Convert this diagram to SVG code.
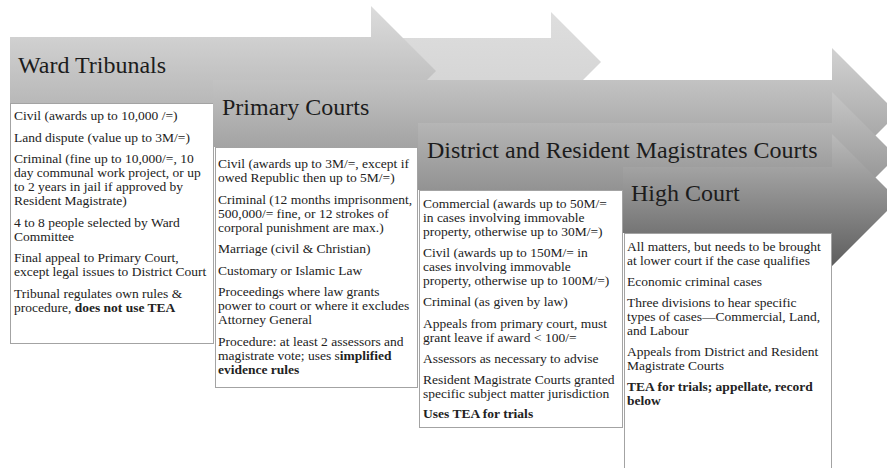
<svg xmlns="http://www.w3.org/2000/svg" width="887" height="468" viewBox="0 0 887 468">
<style>
text{font-family:'Liberation Serif','Times New Roman','DejaVu Serif',serif}
.t{font-size:24px;fill:#1c1c1c}
.b{font-size:13.5px;fill:#222}
.bx{fill:#fff;stroke:#a3a3a3;stroke-width:1}
.k{font-weight:bold}
</style>
<defs>
<linearGradient id="gL" x1="0" y1="0" x2="0" y2="1"><stop offset="0" stop-color="#dedede"/><stop offset="1" stop-color="#d2d2d2"/></linearGradient>
<linearGradient id="gW" x1="0" y1="0" x2="0" y2="1"><stop offset="0" stop-color="#dcdcdc"/><stop offset="1" stop-color="#acacac"/></linearGradient>
<linearGradient id="gP" x1="0" y1="0" x2="0" y2="1"><stop offset="0" stop-color="#d2d2d2"/><stop offset="1" stop-color="#949494"/></linearGradient>
<linearGradient id="gD" x1="0" y1="0" x2="0" y2="1"><stop offset="0" stop-color="#c6c6c6"/><stop offset="1" stop-color="#828282"/></linearGradient>
<linearGradient id="gH" x1="0" y1="0" x2="0" y2="1"><stop offset="0" stop-color="#bababa"/><stop offset="1" stop-color="#5e5e5e"/></linearGradient>
</defs>
<rect width="887" height="468" fill="#fff"/>
<g id="connectors">
<polygon points="200,38 551,38 551,12 601,62 551,112 551,86 200,86" fill="url(#gL)"/>
</g>
<g id="ward" font-family="Liberation Serif, serif">
<polygon points="10,37 371,37 371,6 436,71 371,136 371,104 10,104" fill="url(#gW)"/>
<text class="t" x="18" y="73">Ward Tribunals</text>
<rect class="bx" x="10.5" y="103.5" width="203" height="240"/>
<text class="b" x="14">
<tspan x="14" y="120">Civil (awards up to 10,000 /=)</tspan>
<tspan x="14" y="141.5">Land dispute (value up to 3M/=)</tspan>
<tspan x="14" y="163">Criminal (fine up to 10,000/=, 10</tspan>
<tspan x="14" y="177">day communal work project, or up</tspan>
<tspan x="14" y="191">to 2 years in jail if approved by</tspan>
<tspan x="14" y="205">Resident Magistrate)</tspan>
<tspan x="14" y="226.5">4 to 8 people selected by Ward</tspan>
<tspan x="14" y="240.5">Committee</tspan>
<tspan x="14" y="262">Final appeal to Primary Court,</tspan>
<tspan x="14" y="276">except legal issues to District Court</tspan>
<tspan x="14" y="297.5">Tribunal regulates own rules &amp;</tspan>
<tspan x="14" y="311.5">procedure, <tspan class="k">does not use TEA</tspan></tspan>
</text>
</g>
<g id="primary">
<polygon points="213,80 832,80 832,48 897.5,113.5 832,179 832,147 213,147" fill="url(#gP)"/>
<text class="t" x="222" y="115">Primary Courts</text>
<rect class="bx" x="215.5" y="147.5" width="202" height="240"/>
<text class="b">
<tspan x="218" y="168">Civil (awards up to 3M/=, except if</tspan>
<tspan x="218" y="182">owed Republic then up to 5M/=)</tspan>
<tspan x="218" y="203.5">Criminal (12 months imprisonment,</tspan>
<tspan x="218" y="217.5">500,000/= fine, or 12 strokes of</tspan>
<tspan x="218" y="231.5">corporal punishment are max.)</tspan>
<tspan x="218" y="253">Marriage (civil &amp; Christian)</tspan>
<tspan x="218" y="274.5">Customary or Islamic Law</tspan>
<tspan x="218" y="296">Proceedings where law grants</tspan>
<tspan x="218" y="310">power to court or where it excludes</tspan>
<tspan x="218" y="324">Attorney General</tspan>
<tspan x="218" y="345.5">Procedure: at least 2 assessors and</tspan>
<tspan x="218" y="359.5">magistrate vote; uses s<tspan class="k">implified</tspan></tspan>
<tspan x="218" y="373.5" class="k">evidence rules</tspan>
</text>
</g>
<g id="district">
<polygon points="418,123 832,123 832,92 896.5,156.5 832,221 832,190 418,190" fill="url(#gD)"/>
<text class="t" x="427" y="158">District and Resident Magistrates Courts</text>
<rect class="bx" x="419.5" y="190.5" width="203" height="237"/>
<text class="b">
<tspan x="423" y="208">Commercial (awards up to 50M/=</tspan>
<tspan x="423" y="222">in cases involving immovable</tspan>
<tspan x="423" y="236">property, otherwise up to 30M/=)</tspan>
<tspan x="423" y="257">Civil (awards up to 150M/= in</tspan>
<tspan x="423" y="271">cases involving immovable</tspan>
<tspan x="423" y="285">property, otherwise up to 100M/=)</tspan>
<tspan x="423" y="306">Criminal (as given by law)</tspan>
<tspan x="423" y="327.5">Appeals from primary court, must</tspan>
<tspan x="423" y="341.5">grant leave if award &lt; 100/=</tspan>
<tspan x="423" y="362.5">Assessors as necessary to advise</tspan>
<tspan x="423" y="383.5">Resident Magistrate Courts granted</tspan>
<tspan x="423" y="397.5">specific subject matter jurisdiction</tspan>
<tspan x="423" y="418" class="k">Uses TEA for trials</tspan>
</text>
</g>
<g id="high">
<polygon points="623,167 832,167 832,134 898,200 832,266 832,233 623,233" fill="url(#gH)"/>
<text class="t" x="631" y="201">High Court</text>
<rect class="bx" x="624.5" y="233.5" width="207" height="240"/>
<text class="b">
<tspan x="627" y="251">All matters, but needs to be brought</tspan>
<tspan x="627" y="265">at lower court if the case qualifies</tspan>
<tspan x="627" y="286">Economic criminal cases</tspan>
<tspan x="627" y="307">Three divisions to hear specific</tspan>
<tspan x="627" y="321">types of cases—Commercial, Land,</tspan>
<tspan x="627" y="335">and Labour</tspan>
<tspan x="627" y="356">Appeals from District and Resident</tspan>
<tspan x="627" y="370">Magistrate Courts</tspan>
<tspan x="627" y="391" class="k">TEA for trials; appellate, record</tspan>
<tspan x="627" y="405" class="k">below</tspan>
</text>
</g>
</svg>
